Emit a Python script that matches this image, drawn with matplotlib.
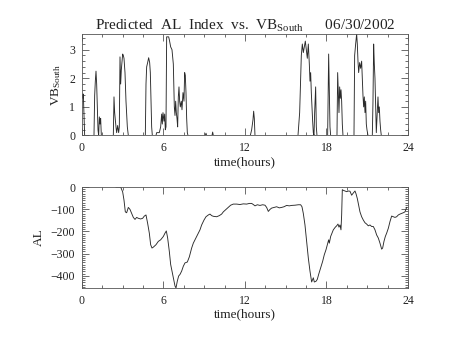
import numpy as np
import matplotlib
matplotlib.use("Agg")
import matplotlib.pyplot as plt
from matplotlib.ticker import MultipleLocator

plt.rcParams["font.family"] = ["Liberation Serif", "DejaVu Serif"]
plt.rcParams["mathtext.default"] = "regular"

# ── southward IMF driver (hours, VB_south) ───────────────────────────────────
vb_time = [
    0.000, 0.049, 0.098, 0.196, 0.883, 0.933, 0.982, 1.031, 1.080, 1.129,
    1.178, 1.227, 1.276, 1.325, 1.374, 1.423, 2.307, 2.356, 2.405, 2.503,
    2.552, 2.626, 2.699, 2.749, 2.798, 2.847, 2.896, 2.945, 2.994, 3.043,
    3.092, 3.166, 3.239, 3.338, 3.411, 4.663, 4.712, 4.761, 4.834, 4.908,
    4.982, 5.031, 5.080, 5.129, 5.178, 5.448, 5.497, 5.693, 5.791, 5.865,
    5.914, 5.963, 6.037, 6.086, 6.135, 6.184, 6.233, 6.282, 6.381, 6.430,
    6.528, 6.626, 6.675, 6.724, 6.798, 6.847, 6.896, 6.945, 6.994, 7.043,
    7.092, 7.141, 7.190, 7.239, 7.313, 7.362, 7.436, 7.509, 7.558, 7.607,
    7.657, 7.706, 7.755, 7.804, 9.080, 9.129, 9.178, 9.571, 9.620, 9.669,
    12.393, 12.491, 12.589, 12.638, 12.687, 12.736,
    15.902, 16.025, 16.148, 16.221, 16.295, 16.368, 16.442, 16.516, 16.589,
    16.663, 16.737, 16.786, 16.835, 16.884, 16.933, 16.982, 17.031, 17.080,
    17.129, 17.203, 17.252, 17.301, 18.086, 18.160, 18.209, 18.258, 18.307,
    18.773, 18.823, 18.872, 18.921, 18.970, 19.019, 19.068, 19.117, 19.166,
    19.215, 20.025, 20.074, 20.148, 20.221, 20.270, 20.320, 20.369, 20.442,
    20.516, 20.589, 20.638, 20.687, 20.737, 20.786, 20.835, 20.884, 20.933,
    20.982, 21.056, 21.375, 21.424, 21.473, 21.522, 21.571, 21.620, 21.669,
    21.718, 21.792, 21.841, 21.890, 21.939, 21.988, 22.037, 24.000,
]
vb_south = [
    1.45, 1.30, 1.45, 0.00, 0.00, 1.40, 1.90, 2.25, 1.80, 1.00,
    0.20, 0.00, 0.65, 0.40, 0.60, 0.00, 0.00, 1.35, 0.80, 0.30,
    0.10, 0.35, 0.10, 0.30, 2.75, 1.80, 2.30, 2.60, 2.85, 2.80,
    2.70, 2.20, 1.20, 0.30, 0.00, 0.00, 1.80, 2.40, 2.55, 2.72,
    2.55, 2.20, 1.20, 0.30, 0.00, 0.00, 0.10, 0.10, 0.30, 0.75,
    0.40, 0.80, 0.50, 0.75, 0.20, 0.30, 3.45, 3.45, 3.45, 3.35,
    3.10, 3.00, 2.75, 2.50, 1.00, 0.70, 1.20, 0.80, 0.60, 0.30,
    1.35, 1.70, 1.20, 1.00, 1.20, 0.90, 1.50, 1.20, 2.20, 2.10,
    1.50, 0.60, 0.10, 0.00, 0.00, 0.08, 0.00, 0.00, 0.12, 0.00,
    0.00, 0.20, 0.55, 0.85, 0.60, 0.00,
    0.00, 0.80, 2.80, 3.20, 2.90, 3.10, 3.30, 3.00, 2.70,
    3.20, 2.50, 1.90, 2.20, 1.50, 1.00, 0.50, 0.10, 0.00,
    0.80, 1.70, 0.30, 0.00, 0.00, 2.85, 1.50, 0.30, 0.00,
    0.00, 2.20, 1.50, 0.80, 1.70, 1.30, 1.60, 1.20, 0.40,
    0.00, 0.00, 2.80, 3.20, 3.55, 3.20, 2.60, 2.20, 2.55,
    2.35, 2.60, 2.00, 1.40, 1.00, 1.35, 0.80, 1.20, 0.40,
    0.20, 0.00, 0.00, 1.20, 3.20, 2.50, 2.00, 1.00, 0.10,
    0.60, 1.35, 0.80, 1.00, 0.50, 0.20, 0.00, 0.00,
]

# ── predicted AL index (hours, nT) ───────────────────────────────────────────
al_time = [
    2.503, 2.847, 2.994, 3.092, 3.190, 3.288, 3.411, 3.534, 3.656, 3.779,
    3.902, 4.025, 4.147, 4.319, 4.466, 4.589, 4.712, 4.834, 4.957, 5.055,
    5.153, 5.252, 5.448, 5.620, 5.791, 5.988, 6.110, 6.209, 6.307, 6.429,
    6.528, 6.650, 6.749, 6.847, 6.920, 7.018, 7.117, 7.215, 7.337, 7.460,
    7.583, 7.755, 7.902, 8.074, 8.196, 8.319, 8.442, 8.565, 8.687, 8.810,
    8.982, 9.129, 9.301, 9.424, 9.546, 9.669, 9.914, 10.110, 10.282, 10.405,
    10.601, 10.773, 10.945, 11.141, 11.387, 11.632, 11.877, 12.123, 12.319, 12.491,
    12.614, 12.736, 12.908, 13.104, 13.301, 13.472, 13.595, 13.718, 13.841, 13.963,
    14.135, 14.331, 14.528, 14.699, 14.871, 15.068, 15.264, 15.436, 15.681, 15.927,
    16.098, 16.196, 16.294, 16.417, 16.540, 16.663, 16.785, 16.908, 17.031, 17.104,
    17.227, 17.325, 17.423, 17.570, 17.718, 17.840, 17.963, 18.061, 18.160, 18.209,
    18.307, 18.405, 18.503, 18.650, 18.749, 18.847, 18.920, 18.994, 19.067, 19.117,
    19.166, 19.239, 19.362, 19.485, 19.608, 19.730, 19.853, 19.976, 20.099, 20.172,
    20.270, 20.368, 20.466, 20.589, 20.712, 20.834, 20.957, 21.080, 21.203, 21.325,
    21.448, 21.571, 21.693, 21.816, 21.939, 22.062, 22.135, 22.233, 22.332, 22.430,
    22.553, 22.675, 22.798, 22.921, 23.043, 23.166, 23.289, 23.411, 23.534, 23.657,
    23.779, 23.902,
]
al_index = [
    0, 0, -22, -59, -112, -116, -92, -101, -119, -137,
    -146, -137, -141, -144, -141, -131, -126, -164, -208, -260,
    -275, -271, -260, -245, -238, -223, -208, -198, -230, -290,
    -349, -387, -416, -446, -455, -424, -401, -394, -379, -357,
    -342, -338, -315, -275, -253, -238, -223, -208, -193, -171,
    -149, -134, -126, -122, -129, -132, -134, -129, -122, -112,
    -101, -92, -82, -77, -77, -79, -76, -77, -74, -74,
    -79, -85, -80, -83, -80, -82, -92, -110, -101, -95,
    -92, -89, -94, -92, -89, -83, -85, -83, -82, -80,
    -80, -89, -119, -171, -245, -320, -379, -428, -409, -428,
    -425, -416, -394, -364, -335, -305, -283, -260, -238, -253,
    -223, -208, -193, -181, -175, -167, -181, -171, -193, -126,
    -12, -15, -18, -21, -18, -19, -37, -27, -18, -30,
    -52, -82, -112, -134, -149, -161, -167, -175, -171, -178,
    -178, -193, -216, -230, -253, -280, -275, -245, -223, -208,
    -186, -156, -131, -134, -137, -134, -126, -122, -119, -116,
    -112, -92,
]

hour_ticks = [0, 6, 12, 18, 24]


def _idl_axes(ax, y_major, y_minor):
    """Inward ticks on all four sides, thin grey frame."""
    ax.set_xlim(0, 24)
    ax.set_xticks(hour_ticks)
    ax.xaxis.set_minor_locator(MultipleLocator(1.5))
    ax.yaxis.set_major_locator(MultipleLocator(y_major))
    ax.yaxis.set_minor_locator(MultipleLocator(y_minor))
    ax.tick_params(which="both", direction="in", top=True, right=True,
                   color="#555555", width=0.6, labelsize=8.5, pad=5,
                   labelcolor="#222222")
    ax.tick_params(which="major", length=5)
    ax.tick_params(which="minor", length=2.5)
    for sp in ax.spines.values():
        sp.set_linewidth(0.6)
        sp.set_color("#555555")
    ax.set_xlabel("time(hours)", fontsize=9.5, labelpad=1, color="#222222")


fig = plt.figure(figsize=(4.53, 3.40), dpi=100)
ax_vb = fig.add_axes([0.181, 0.6015, 0.7196, 0.2985])
ax_al = fig.add_axes([0.181, 0.153, 0.7196, 0.297])

# ── top: VB_south ────────────────────────────────────────────────────────────
ax_vb.plot(vb_time, vb_south, color="#2a2a2a", lw=0.65)
ax_vb.set_ylim(0, max(vb_south))
_idl_axes(ax_vb, 1, 0.2)
ax_vb.set_ylabel("VB$_{South}$", fontsize=9.5, labelpad=4, color="#222222")
ax_vb.set_title("Predicted  AL  Index  vs.  VB$_{South}$      06/30/2002",
                fontsize=11, pad=3, color="#222222")

# ── bottom: AL index ─────────────────────────────────────────────────────────
ax_al.plot(al_time, al_index, color="#2a2a2a", lw=0.65)
ax_al.set_ylim(min(al_index), 0)
_idl_axes(ax_al, 100, 10)
ax_al.set_ylabel("AL", fontsize=9.5, labelpad=4, color="#222222")

fig.savefig("out.png", dpi=100)
plt.close(fig)
